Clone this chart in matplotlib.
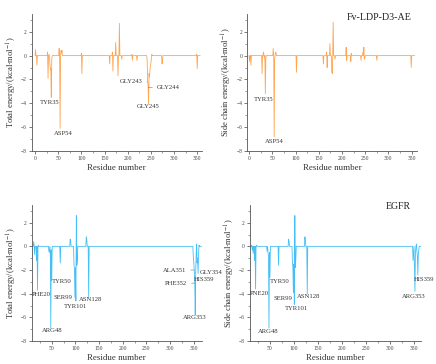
import numpy as np
import matplotlib
matplotlib.use('Agg')
import matplotlib.pyplot as plt
from matplotlib.ticker import MultipleLocator

plt.rcParams['font.family'] = ['Liberation Serif', 'DejaVu Serif']
plt.rcParams['mathtext.fontset'] = 'stix'

# residue ranges
fv_first, fv_last = 0, 356
egfr_first, egfr_last = 9, 366

# Fv-LDP-D3-AE, total energy (non-zero residues only)
fv_tot_res = [1, 4, 27, 28, 30, 32, 33, 34, 35, 36, 52, 53, 54, 56, 57, 58,
              100, 101, 161, 167, 168, 174, 179, 182, 187, 209, 210, 220,
              242, 243, 244, 245, 246, 247, 248, 249, 250, 251, 252,
              274, 275, 349, 350]
fv_tot_val = [0.5, -0.8, 0.3, -1.9, 0.1, -0.7, -1.2, -1.1, -3.5, -0.3, 0.6, -0.2, -6.1, 0.4, 0.2, 0.45,
              0.2, -1.5, -0.7, 0.3, -1.3, 1.1, -1.7, 2.7, -0.3, 0.1, -0.4, -0.4,
              -0.5, -2.2, -2.6, -4.0, -1.5, -1.8, -1.2, -0.8, -0.6, -0.3, 0.1,
              -0.7, -0.5, 0.1, -1.1]

# Fv-LDP-D3-AE, side chain energy
fv_sc_res = [1, 4, 28, 31, 33, 35, 36, 52, 54, 55, 57, 58, 102, 160, 167, 168,
             174, 178, 179, 181, 185, 209, 210, 219, 220, 241, 245, 247, 248, 249,
             275, 349]
fv_sc_val = [-0.5, -0.8, -1.5, 0.3, -0.2, -3.2, -0.3, 0.6, -6.8, -0.3, 0.3, 0.2, -1.4, -0.7, 0.3, -1.0,
             1.0, -1.3, -1.5, 2.8, -0.3, 0.7, -0.4, -0.5, 0.2, -0.4, 0.3, 0.7, -0.3, -0.2,
             -0.4, -1.0]

# EGFR, total energy
eg_tot_res = [12, 14, 18, 20, 22, 44, 45, 47, 48, 49, 50, 68, 89, 90,
              97, 98, 99, 100, 101, 102, 103, 104, 123, 124, 128,
              349, 350, 351, 352, 353, 354, 355, 356, 357, 358, 359, 360, 361]
eg_tot_val = [0.4, -0.7, -1.2, -3.7, 0.1, -0.4, -0.5, -0.5, -6.9, -0.3, -2.9, -1.4, 0.6, 0.4,
              -1.5, -1.9, -4.3, -1.8, -4.6, 2.6, -1.6, -1.2, 0.8, 0.6, -4.3,
              -1.0, -1.4, -2.1, -3.1, -5.8, -2.2, -0.6, 0.2, -1.4, -1.0, -2.3, -0.7, 0.1]

# EGFR, side chain energy
eg_sc_res = [12, 13, 15, 18, 20, 22, 44, 46, 47, 48, 49, 50, 68, 89, 90,
             97, 98, 99, 100, 101, 102, 103, 104, 123, 124, 128,
             349, 350, 352, 353, 354, 356, 357, 358, 359, 360, 361]
eg_sc_val = [0.1, -0.3, -0.6, -1.2, -3.6, 0.1, -0.4, -0.5, -0.8, -6.9, -0.5, -2.6, -1.6, 0.6, 0.4,
             -1.3, -1.8, -3.9, -1.5, -4.9, 2.6, -1.8, -1.2, 0.8, 0.5, -4.0,
             -1.2, -0.6, -1.8, -3.8, -0.5, 0.2, -0.4, -0.8, -2.4, -0.8, -0.3]

# labels: (text, x, y)
fv_tot_labels = [('TYR35', 31, -3.9), ('ASP54', 60, -6.55), ('GLY245', 244, -4.3)]
fv_sc_labels = [('TYR35', 31, -3.65), ('ASP54', 55, -7.2)]
eg_tot_labels = [('PHE20', 28, -4.1), ('TYR50', 71, -3.0), ('SER99', 74, -4.35),
                 ('TYR101', 101, -5.1), ('ASN128', 132, -4.5), ('ARG48', 51, -7.1),
                 ('ARG353', 351, -6.0), ('HIS359', 371, -2.8)]
eg_sc_labels = [('PNE20', 28, -4.0), ('TYR50', 70, -3.0), ('SER99', 77, -4.4),
                ('TYR101', 105, -5.25), ('ASN128', 130, -4.2), ('ARG48', 47, -7.2),
                ('ARG353', 351, -4.2), ('HIS359', 372, -2.8)]
# labels with leader lines: (text, spike x, spike y, text x, text y, ha)
fv_tot_leaders = [('GLY243', 243, -2.2, 208, -2.2, 'center'),
                  ('GLY244', 244, -2.65, 287, -2.7, 'center')]
eg_tot_leaders = [('ALA351', 351, -2.0, 310, -2.0, 'center'),
                  ('PHE352', 352, -3.1, 313, -3.15, 'center'),
                  ('GLY354', 354, -2.2, 363, -2.25, 'left')]

orange = '#FFA54F'
blue = '#45BFF5'


def series(first, last, res, val):
    x = np.arange(first, last + 1)
    y = np.zeros(len(x))
    for r, v in zip(res, val):
        y[r - first] = v
    return x, y


def panel(rect, first, last, res, val, color, xlim, ylabel, labels, leaders=()):
    ax = fig.add_axes(rect)
    x, y = series(first, last, res, val)
    ax.plot(x, y, color=color, lw=0.6)
    ax.set_xlim(*xlim)
    ax.set_ylim(-8, 3.5)
    ax.yaxis.set_major_locator(MultipleLocator(2))
    ax.yaxis.set_minor_locator(MultipleLocator(1))
    ax.xaxis.set_major_locator(MultipleLocator(50))
    ax.xaxis.set_minor_locator(MultipleLocator(25))
    for s in ['top', 'right']:
        ax.spines[s].set_visible(False)
    for s in ['left', 'bottom']:
        ax.spines[s].set_color('#555555')
        ax.spines[s].set_linewidth(0.6)
    ax.tick_params(which='major', length=2, width=0.5, labelsize=4, colors='#444444', pad=1.5)
    ax.tick_params(which='minor', length=1.2, width=0.4, colors='#555555')
    ax.set_xlabel('Residue number', fontsize=6.4, labelpad=2, color='#333333')
    ax.set_ylabel(ylabel, fontsize=6.2, labelpad=1.5, color='#333333')
    for t, tx, ty in labels:
        ax.text(tx, ty, t, fontsize=4.8, ha='center', va='center', color='#333333')
    for t, sx, sy, tx, ty, ha in leaders:
        ax.annotate(t, xy=(sx, sy), xytext=(tx, ty), fontsize=4.8, ha=ha, va='center',
                    color='#333333', annotation_clip=False,
                    arrowprops=dict(arrowstyle='-', lw=0.4, color='#777777',
                                    shrinkA=1, shrinkB=0))
    return ax


fig = plt.figure(figsize=(4.36, 3.64), dpi=100)

ylab_tot = 'Total energy/(kcal$\\cdot$mol$^{-1}$)'
ylab_sc = 'Side chain energy/(kcal$\\cdot$mol$^{-1}$)'

panel([0.073, 0.585, 0.390, 0.377], fv_first, fv_last, fv_tot_res, fv_tot_val, orange,
      (-7, 360), ylab_tot, fv_tot_labels, fv_tot_leaders)
ax2 = panel([0.567, 0.585, 0.389, 0.377], fv_first, fv_last, fv_sc_res, fv_sc_val, orange,
            (-4, 361), ylab_sc, fv_sc_labels)
ax2.text(0.78, 0.97, 'Fv-LDP-D3-AE', transform=ax2.transAxes, fontsize=7.2,
         ha='center', va='center', color='#222222')
panel([0.073, 0.063, 0.390, 0.374], egfr_first, egfr_last, eg_tot_res, eg_tot_val, blue,
      (8, 367), ylab_tot, eg_tot_labels, eg_tot_leaders)
ax4 = panel([0.573, 0.063, 0.393, 0.374], egfr_first, egfr_last, eg_sc_res, eg_sc_val, blue,
            (8, 366), ylab_sc, eg_sc_labels)
ax4.text(0.866, 0.985, 'EGFR', transform=ax4.transAxes, fontsize=7.0,
         ha='center', va='center', color='#222222')

fig.savefig('out.png', dpi=100)
